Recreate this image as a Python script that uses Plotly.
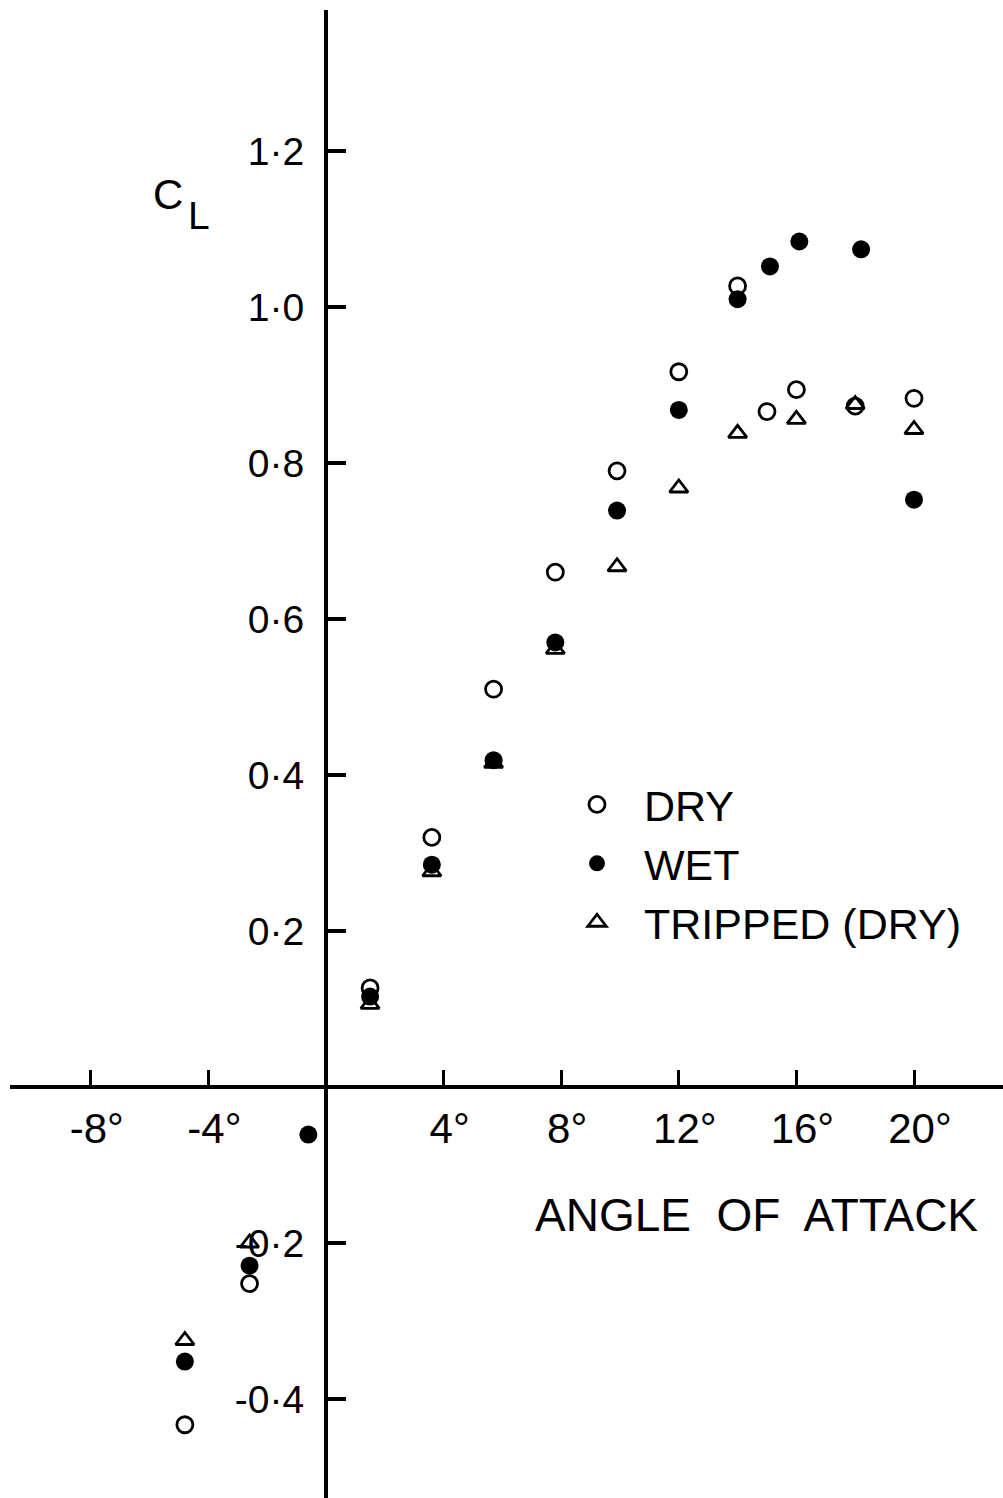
import plotly.graph_objects as go

# ---- data ----
aoa_dry = [-4.8, -2.6, 1.5, 3.6, 5.7, 7.8, 9.9, 12.0, 14.0, 15.0, 16.0, 18.0, 20.0]
cl_dry = [-0.433, -0.252, 0.127, 0.320, 0.510, 0.660, 0.790, 0.917, 1.027, 0.866, 0.894, 0.873, 0.883]

aoa_wet = [-4.8, -2.6, -0.6, 1.5, 3.6, 5.7, 7.8, 9.9, 12.0, 14.0, 15.1, 16.1, 18.2, 20.0]
cl_wet = [-0.352, -0.229, -0.061, 0.116, 0.285, 0.419, 0.570, 0.739, 0.868, 1.010, 1.052, 1.084, 1.074, 0.753]

aoa_tripped = [-4.8, -2.6, 1.5, 3.6, 5.7, 7.8, 9.9, 12.0, 14.0, 16.0, 18.0, 20.0]
cl_tripped = [-0.325, -0.200, 0.106, 0.276, 0.415, 0.561, 0.667, 0.768, 0.838, 0.856, 0.875, 0.843]

x_tickvals = [-8, -4, 4, 8, 12, 16, 20]
x_ticktext = ["-8°", "-4°", "4°", "8°", "12°", "16°", "20°"]
y_tickvals = [-0.4, -0.2, 0.2, 0.4, 0.6, 0.8, 1.0, 1.2]
y_ticktext = ["-0·4", "-0·2", "0·2", "0·4", "0·6", "0·8", "1·0", "1·2"]

series_names = ["DRY", "WET", "TRIPPED (DRY)"]

# ---- figure geometry ----
W, H = 1003, 1498
ML, MT = 10, 10
PW, PH = W - ML, H - MT
XR = [-10.748, 23.027]
YR = [-0.5269, 1.3808]
FONT = "Liberation Sans, Arial, Helvetica, sans-serif"

def px_x(px):
    return (px - ML) / PW

def px_y(py):
    return (H - py) / PH

fig = go.Figure()

fig.add_trace(go.Scatter(
    x=aoa_tripped, y=cl_tripped, mode="markers", name=series_names[2], legendrank=3,
    marker=dict(symbol="triangle-up-open", size=16, color="black", line=dict(width=2.8, color="black")),
))
fig.add_trace(go.Scatter(
    x=aoa_dry, y=cl_dry, mode="markers", name=series_names[0], legendrank=1,
    marker=dict(symbol="circle-open", size=16, color="black", line=dict(width=2.8, color="black")),
))
fig.add_trace(go.Scatter(
    x=aoa_wet, y=cl_wet, mode="markers", name=series_names[1], legendrank=2,
    marker=dict(symbol="circle", size=18, color="black", line=dict(width=0)),
))

x0_pos = (0 - XR[0]) / (XR[1] - XR[0])
y0_pos = (0 - YR[0]) / (YR[1] - YR[0])

fig.update_layout(
    width=W, height=H,
    margin=dict(l=ML, r=0, t=MT, b=0),
    paper_bgcolor="white", plot_bgcolor="white",
    font=dict(family=FONT, color="black"),
    xaxis=dict(
        range=XR, anchor="free", position=y0_pos,
        showgrid=False, zeroline=False,
        showline=True, linecolor="black", linewidth=4,
        ticks="inside", ticklen=15, tickwidth=3, tickcolor="black",
        tickvals=x_tickvals, ticktext=x_ticktext,
        tickfont=dict(size=42, family=FONT, color="black"),
        ticklabelstandoff=4, ticklabelshift=6,
    ),
    yaxis=dict(
        range=YR, anchor="free", position=x0_pos,
        showgrid=False, zeroline=False,
        showline=True, linecolor="black", linewidth=4,
        ticks="inside", ticklen=18, tickwidth=3.5, tickcolor="black",
        tickvals=y_tickvals, ticktext=y_ticktext,
        tickfont=dict(size=39, family=FONT, color="black"),
        ticklabelstandoff=12,
    ),
    legend=dict(
        x=px_x(550), y=px_y(770), xanchor="left", yanchor="top",
        font=dict(size=43, family=FONT, color="black"),
        bgcolor="rgba(0,0,0,0)", borderwidth=0,
        itemwidth=84, traceorder="normal",
    ),
    showlegend=True,
)

fig.add_annotation(text="C", xref="paper", yref="paper", x=px_x(168), y=px_y(195),
                   xanchor="center", yanchor="middle", showarrow=False,
                   font=dict(size=42, family=FONT, color="black"))
fig.add_annotation(text="L", xref="paper", yref="paper", x=px_x(199), y=px_y(216),
                   xanchor="center", yanchor="middle", showarrow=False,
                   font=dict(size=39, family=FONT, color="black"))
fig.add_annotation(text="ANGLE  OF  ATTACK", xref="paper", yref="paper", x=px_x(756), y=px_y(1215),
                   xanchor="center", yanchor="middle", showarrow=False,
                   font=dict(size=46, family=FONT, color="black"))

fig.write_html("out.html")
